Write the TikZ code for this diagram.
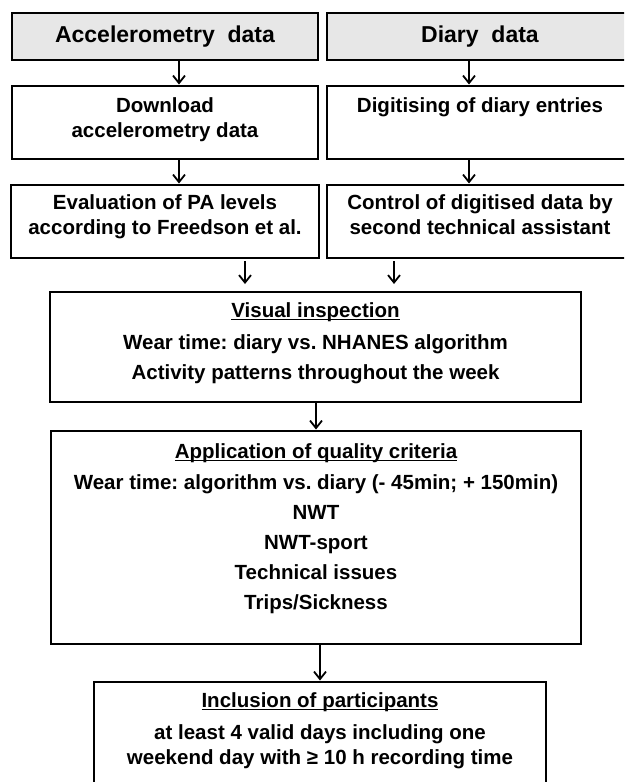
\documentclass[tikz,border=0pt]{standalone}
\usepackage{fontspec}
\setmainfont{Liberation Sans}
\usepackage{xcolor}
\usepackage{tikz}
\usetikzlibrary{positioning,arrows.meta}
\definecolor{headfill}{HTML}{E7E7E7}
\newcommand{\titleul}[1]{\setbox0\hbox{#1}\rlap{\rule[-2.8pt]{\wd0}{1.2pt}}\box0}
\frenchspacing

\begin{document}
\begin{tikzpicture}[x=1pt, y=1pt,
  box/.style={draw=black, line width=2pt, anchor=north west, inner sep=0pt, outer sep=0pt, minimum height=73pt, minimum width=306pt, fill=#1},
  box/.default=white,
  head/.style={font=\bfseries\fontsize{23}{27}\selectfont},
  txt/.style={align=center, inner sep=0pt, font=\bfseries\fontsize{20.5}{25}\selectfont},
  >={Straight Barb[length=7.5pt, width=12pt]},
  arr/.style={->, line width=1.8pt, shorten >=1.5pt}]
\clip (0,0) rectangle (624,-782);
% sources
\node[box=headfill, head, minimum height=47pt] (acc) at (12,-13) {Accelerometry~~data};
\node[box=headfill, head, minimum height=47pt] (dia) at (327,-13) {Diary~~data};
% accelerometry branch
\node[box] (dl) at (12,-86) {};
\node[txt, below=11pt of dl.north] (dlt) {Download\\accelerometry data};
\node[box, minimum width=308pt] (eva) at (11,-185) {};
\node[txt, below=9pt of eva.north] (evat) {Evaluation of PA levels\\according to Freedson et al.};
% diary branch
\node[box] (dig) at (327,-86) {};
\node[txt, below=11pt of dig.north] (digt) {Digitising of diary entries};
\node[box] (ctl) at (327,-185) {};
\node[txt, below=9pt of ctl.north] (ctlt) {Control of digitised data by\\second technical assistant};
% joint steps
\node[box, minimum width=531pt, minimum height=110pt] (vis) at (50,-292) {};
\node[txt, font=\bfseries\fontsize{20.5}{30}\selectfont, below=10pt of vis.north] (vist)
  {\titleul{Visual inspection}\\[2pt]Wear time: diary vs. NHANES algorithm\\Activity patterns throughout the week};
\node[box, minimum width=530pt, minimum height=213pt] (qual) at (51,-431) {};
\node[txt, font=\bfseries\fontsize{20.5}{30}\selectfont, below=12pt of qual.north] (qualt)
  {\titleul{Application of quality criteria}\\[1pt]Wear time: algorithm vs. diary (- 45min; + 150min)\\NWT\\NWT-sport\\Technical issues\\Trips/Sickness};
\node[box, minimum width=452pt, minimum height=130pt] (incl) at (94,-682) {};
\node[txt, below=10pt of incl.north] (inclt)
  {\titleul{Inclusion of participants}\\[7pt]at least 4 valid days including one\\weekend day with ≥ 10 h recording time};
% arrows
\foreach \a/\b/\s in {acc/dl/14, dl/eva/14, dia/dig/-11, dig/ctl/-11}
  \draw[arr] ([xshift=\s pt]\a.south) -- ([xshift=\s pt]\b.north);
\coordinate (ea) at ([xshift=80pt]eva.south);
\coordinate (ca) at ([xshift=-86pt]ctl.south);
\foreach \c in {ea, ca}
  \draw[arr, shorten <=3pt, shorten >=8pt] (\c) -- (\c |- vis.north);
\draw[arr] (qual.north |- vis.south) -- (qual.north);
\draw[arr] (qual.south -| incl.north) -- (incl.north);
\end{tikzpicture}
\end{document}
